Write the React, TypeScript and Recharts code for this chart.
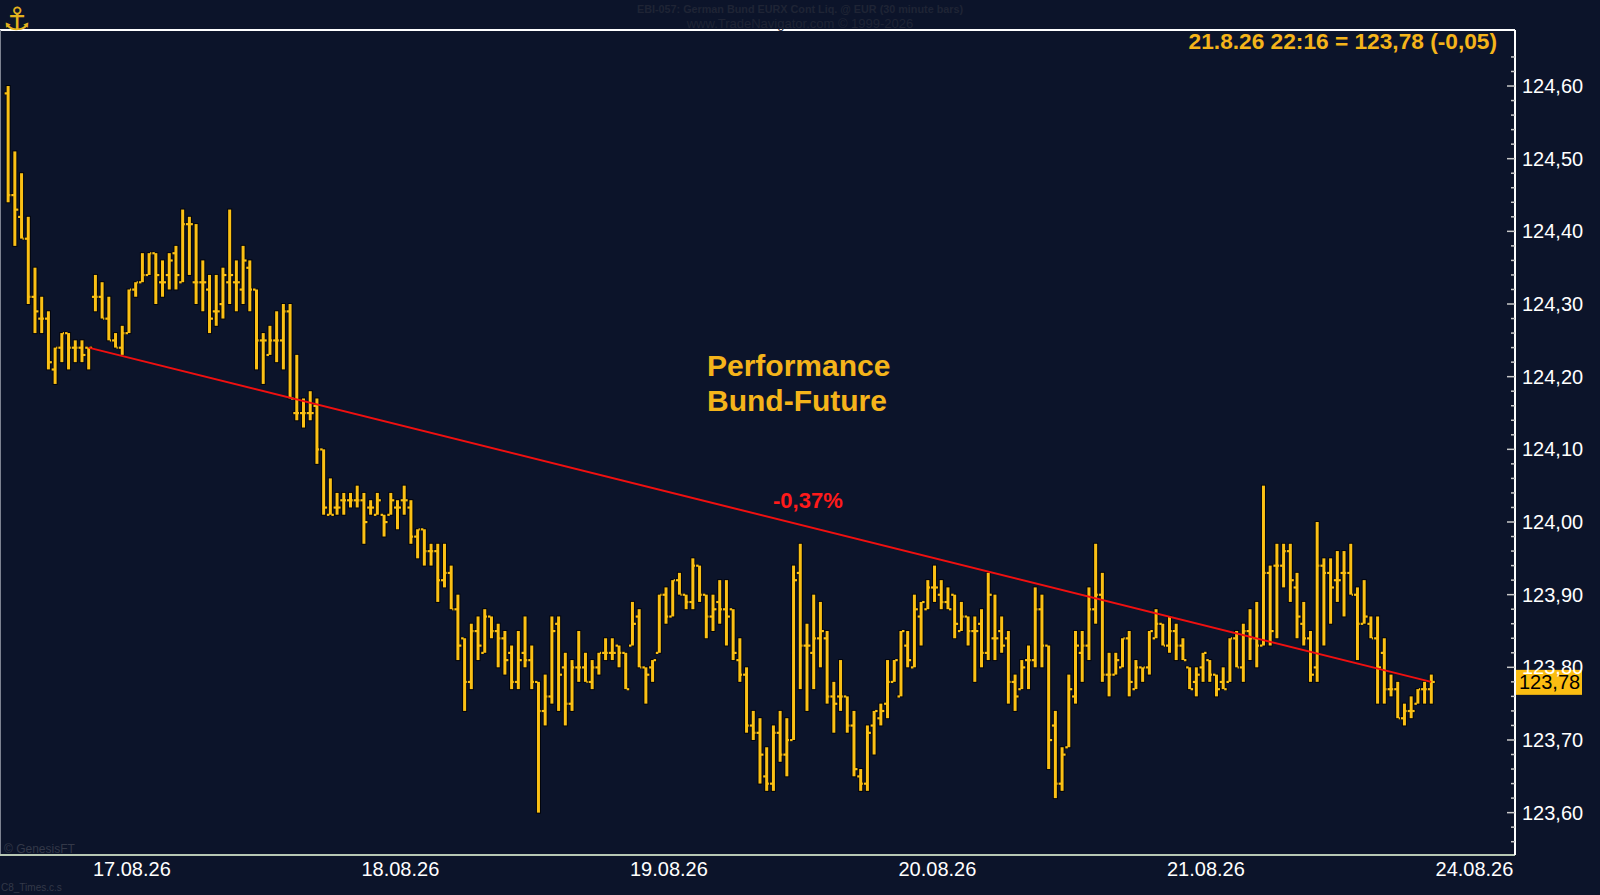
import React from "react";
import { ComposedChart, Bar, XAxis, YAxis, ReferenceLine } from "recharts";

// Bund-Future, 30 minute bars, 14.08. evening .. 21.08.26 22:16
const opens = [
  124.59, 124.45, 124.42, 124.39, 124.31, 124.28, 124.28, 124.21, 124.24, 124.26,
  124.24, 124.24, 124.24, 124.31, 124.31, 124.28, 124.25, 124.24, 124.26, 124.32,
  124.33, 124.34, 124.37, 124.33, 124.34, 124.37, 124.33, 124.41, 124.33, 124.33,
  124.32, 124.29, 124.30, 124.33, 124.33, 124.32, 124.35, 124.32, 124.25, 124.23,
  124.25, 124.25, 124.29, 124.15, 124.15, 124.15, 124.16, 124.10, 124.01, 124.02,
  124.03, 124.03, 124.03, 124.03, 124.02, 124.01, 124.01, 124.01, 124.02, 124.03,
  124.02, 123.98, 123.99, 123.96, 123.96, 123.92, 123.93, 123.88, 123.84, 123.78,
  123.85, 123.82, 123.87, 123.85, 123.84, 123.82, 123.78, 123.82, 123.81, 123.78,
  123.74, 123.76, 123.86, 123.80, 123.75, 123.80, 123.80, 123.78, 123.80, 123.82,
  123.82, 123.83, 123.82, 123.83, 123.87, 123.80, 123.80, 123.82, 123.90, 123.87,
  123.92, 123.90, 123.89, 123.94, 123.90, 123.87, 123.89, 123.88, 123.88, 123.81,
  123.79, 123.72, 123.71, 123.65, 123.64, 123.71, 123.68, 123.70, 123.93, 123.83,
  123.82, 123.84, 123.84, 123.76, 123.76, 123.76, 123.72, 123.65, 123.64, 123.72,
  123.73, 123.75, 123.78, 123.76, 123.83, 123.80, 123.87, 123.88, 123.91, 123.90,
  123.89, 123.90, 123.85, 123.87, 123.85, 123.86, 123.82, 123.84, 123.85, 123.84,
  123.78, 123.77, 123.81, 123.81, 123.88, 123.83, 123.72, 123.64, 123.69, 123.76,
  123.82, 123.83, 123.88, 123.90, 123.79, 123.79, 123.80, 123.84, 123.77, 123.80,
  123.80, 123.84, 123.86, 123.83, 123.85, 123.83, 123.80, 123.78, 123.80, 123.81,
  123.79, 123.78, 123.78, 123.84, 123.80, 123.85, 123.84, 123.83, 123.93, 123.94,
  123.94, 123.96, 123.91, 123.86, 123.84, 123.80, 123.94, 123.93, 123.92, 123.93,
  123.93, 123.90, 123.86, 123.86, 123.84, 123.82, 123.77, 123.77, 123.73, 123.74,
  123.75, 123.77, 123.77,
];

const highs = [
  124.60, 124.51, 124.48, 124.42, 124.35, 124.31, 124.29, 124.24, 124.26, 124.26,
  124.25, 124.25, 124.24, 124.34, 124.33, 124.31, 124.26, 124.27, 124.32, 124.33,
  124.37, 124.37, 124.37, 124.36, 124.37, 124.38, 124.43, 124.42, 124.41, 124.36,
  124.34, 124.34, 124.35, 124.43, 124.36, 124.38, 124.36, 124.32, 124.26, 124.27,
  124.29, 124.30, 124.30, 124.23, 124.17, 124.18, 124.17, 124.10, 124.06, 124.04,
  124.04, 124.04, 124.05, 124.04, 124.03, 124.04, 124.01, 124.04, 124.03, 124.05,
  124.03, 123.99, 123.99, 123.97, 123.97, 123.97, 123.94, 123.90, 123.84, 123.86,
  123.87, 123.88, 123.87, 123.86, 123.85, 123.83, 123.85, 123.87, 123.83, 123.78,
  123.79, 123.87, 123.87, 123.82, 123.81, 123.85, 123.82, 123.81, 123.82, 123.84,
  123.84, 123.83, 123.82, 123.89, 123.88, 123.80, 123.81, 123.90, 123.91, 123.92,
  123.93, 123.90, 123.95, 123.94, 123.90, 123.90, 123.92, 123.92, 123.88, 123.84,
  123.80, 123.74, 123.73, 123.69, 123.72, 123.74, 123.73, 123.94, 123.97, 123.86,
  123.90, 123.89, 123.85, 123.78, 123.81, 123.76, 123.74, 123.66, 123.72, 123.74,
  123.75, 123.81, 123.81, 123.85, 123.85, 123.90, 123.89, 123.92, 123.94, 123.92,
  123.91, 123.90, 123.89, 123.87, 123.87, 123.88, 123.93, 123.90, 123.87, 123.85,
  123.79, 123.81, 123.83, 123.91, 123.90, 123.83, 123.74, 123.69, 123.79, 123.85,
  123.85, 123.91, 123.97, 123.93, 123.82, 123.82, 123.84, 123.85, 123.81, 123.80,
  123.85, 123.88, 123.86, 123.87, 123.86, 123.84, 123.80, 123.80, 123.82, 123.81,
  123.79, 123.80, 123.84, 123.85, 123.86, 123.88, 123.89, 124.05, 123.94, 123.97,
  123.97, 123.97, 123.93, 123.89, 123.85, 124.00, 123.95, 123.95, 123.96, 123.96,
  123.97, 123.91, 123.92, 123.87, 123.87, 123.84, 123.79, 123.78, 123.75, 123.76,
  123.77, 123.78, 123.79,
];

const lows = [
  124.44, 124.38, 124.39, 124.30, 124.26, 124.26, 124.21, 124.19, 124.22, 124.21,
  124.22, 124.22, 124.21, 124.29, 124.28, 124.25, 124.24, 124.23, 124.26, 124.31,
  124.33, 124.34, 124.30, 124.31, 124.32, 124.32, 124.33, 124.34, 124.30, 124.29,
  124.26, 124.27, 124.28, 124.30, 124.29, 124.30, 124.29, 124.21, 124.19, 124.23,
  124.22, 124.21, 124.17, 124.14, 124.13, 124.14, 124.08, 124.01, 124.01, 124.01,
  124.01, 124.02, 124.02, 123.97, 124.01, 124.01, 123.98, 124.01, 123.99, 124.01,
  123.97, 123.95, 123.94, 123.94, 123.89, 123.91, 123.88, 123.81, 123.74, 123.77,
  123.81, 123.82, 123.84, 123.80, 123.79, 123.77, 123.77, 123.80, 123.77, 123.60,
  123.72, 123.75, 123.74, 123.72, 123.74, 123.78, 123.78, 123.77, 123.79, 123.81,
  123.81, 123.80, 123.77, 123.83, 123.80, 123.75, 123.78, 123.82, 123.86, 123.87,
  123.90, 123.88, 123.88, 123.89, 123.84, 123.85, 123.86, 123.83, 123.81, 123.78,
  123.71, 123.70, 123.64, 123.63, 123.63, 123.67, 123.65, 123.70, 123.77, 123.74,
  123.77, 123.80, 123.75, 123.71, 123.74, 123.71, 123.65, 123.63, 123.63, 123.68,
  123.72, 123.73, 123.78, 123.76, 123.80, 123.80, 123.83, 123.88, 123.89, 123.88,
  123.88, 123.84, 123.85, 123.83, 123.78, 123.80, 123.81, 123.81, 123.82, 123.75,
  123.74, 123.77, 123.77, 123.80, 123.80, 123.66, 123.62, 123.63, 123.69, 123.75,
  123.78, 123.81, 123.86, 123.78, 123.76, 123.79, 123.80, 123.76, 123.77, 123.78,
  123.79, 123.84, 123.83, 123.82, 123.81, 123.81, 123.77, 123.76, 123.78, 123.78,
  123.76, 123.77, 123.78, 123.80, 123.78, 123.81, 123.80, 123.83, 123.83, 123.84,
  123.91, 123.89, 123.84, 123.83, 123.78, 123.78, 123.83, 123.86, 123.89, 123.87,
  123.90, 123.81, 123.86, 123.84, 123.75, 123.75, 123.76, 123.73, 123.72, 123.73,
  123.75, 123.75, 123.75,
];

const closes = [
  124.45, 124.43, 124.39, 124.31, 124.29, 124.28, 124.22, 124.24, 124.26, 124.24,
  124.24, 124.23, 124.24, 124.31, 124.28, 124.25, 124.24, 124.26, 124.32, 124.33,
  124.34, 124.37, 124.34, 124.33, 124.36, 124.34, 124.41, 124.41, 124.33, 124.33,
  124.28, 124.29, 124.34, 124.34, 124.33, 124.36, 124.32, 124.25, 124.25, 124.25,
  124.25, 124.29, 124.17, 124.15, 124.15, 124.15, 124.10, 124.02, 124.01, 124.02,
  124.03, 124.03, 124.03, 124.00, 124.02, 124.03, 124.00, 124.03, 124.02, 124.03,
  123.98, 123.99, 123.96, 123.96, 123.92, 123.93, 123.88, 123.83, 123.78, 123.85,
  123.83, 123.87, 123.85, 123.84, 123.81, 123.78, 123.81, 123.81, 123.78, 123.74,
  123.76, 123.85, 123.79, 123.75, 123.80, 123.80, 123.78, 123.80, 123.82, 123.82,
  123.82, 123.82, 123.77, 123.86, 123.80, 123.79, 123.81, 123.90, 123.87, 123.92,
  123.90, 123.89, 123.94, 123.90, 123.87, 123.88, 123.88, 123.87, 123.82, 123.79,
  123.72, 123.71, 123.68, 123.64, 123.71, 123.68, 123.70, 123.92, 123.83, 123.83,
  123.84, 123.85, 123.76, 123.75, 123.76, 123.72, 123.66, 123.64, 123.71, 123.74,
  123.74, 123.78, 123.81, 123.85, 123.81, 123.88, 123.89, 123.91, 123.91, 123.89,
  123.88, 123.86, 123.87, 123.85, 123.85, 123.82, 123.90, 123.84, 123.83, 123.78,
  123.76, 123.80, 123.81, 123.88, 123.83, 123.70, 123.64, 123.68, 123.77, 123.83,
  123.83, 123.88, 123.90, 123.79, 123.79, 123.81, 123.84, 123.78, 123.80, 123.80,
  123.85, 123.86, 123.83, 123.85, 123.83, 123.81, 123.77, 123.79, 123.82, 123.79,
  123.77, 123.77, 123.84, 123.80, 123.85, 123.84, 123.83, 123.93, 123.85, 123.94,
  123.96, 123.92, 123.87, 123.84, 123.79, 123.94, 123.93, 123.91, 123.92, 123.93,
  123.90, 123.86, 123.87, 123.84, 123.80, 123.77, 123.77, 123.73, 123.74, 123.74,
  123.77, 123.77, 123.78,
];

// x axis: bar index of each day label
const dayTicks = [18.45, 58.45, 98.45, 138.45, 178.45, 218.45];
const dayLabels = ["17.08.26", "18.08.26", "19.08.26", "20.08.26", "21.08.26", "24.08.26"];

const priceTicks = [123.6, 123.7, 123.8, 123.9, 124.0, 124.1, 124.2, 124.3, 124.4, 124.5, 124.6];
const minorSteps = [-0.04, -0.02, 0.02, 0.04];

// performance line: close of bar 12 to the last close
const trendFrom = { bar: 12, price: 124.24 };
const trendTo = { bar: 212, price: 123.78 };
const lastPrice = 123.78;

const X_DOMAIN: [number, number] = [-1.19, 224.49];
const Y_DOMAIN: [number, number] = [123.5417, 124.6771];

const BG = "#0c142a";
const BAR_GOLD = "#fbc015";
const TEXT_GOLD = "#f5b41a";
const FONT = "'Liberation Sans', Arial, sans-serif";

const rows = closes.map((c, i) => ({
  i,
  o: opens[i],
  h: highs[i],
  l: lows[i],
  c,
  range: [lows[i], highs[i]],
}));

const allTicks = [
  ...priceTicks,
  ...priceTicks.flatMap((t) => minorSteps.map((s) => Math.round((t + s) * 100) / 100)),
]
  .filter((v, idx, arr) => arr.indexOf(v) === idx && v > Y_DOMAIN[0] && v < Y_DOMAIN[1])
  .sort((a, b) => a - b);

const fmt = (v: number) => v.toFixed(2).replace(".", ",");

function OhlcShape(props: any) {
  const { x, y, width, height, payload } = props;
  if (!payload || x == null || y == null) return null;
  const cx = x + width / 2;
  const top = Math.min(y, y + height);
  const h = Math.abs(height);
  const span = payload.h - payload.l;
  const toY = (v: number) => (span > 0 ? top + ((payload.h - v) / span) * h : top);
  const yo = toY(payload.o);
  const yc = toY(payload.c);
  return (
    <g>
      <rect x={cx - 2.5} y={top - 1} width={5} height={h + 2} fill="#03050b" />
      <rect x={cx - 4.5} y={yo - 1.5} width={3} height={3} fill="#03050b" />
      <rect x={cx + 1.5} y={yc - 1.5} width={3} height={3} fill="#03050b" />
      <rect x={cx - 1.5} y={top} width={3} height={Math.max(h, 1)} fill={BAR_GOLD} />
      <rect x={cx - 3.5} y={yo - 1} width={2.5} height={2.2} fill={BAR_GOLD} />
      <rect x={cx + 1} y={yc - 1} width={2.5} height={2.2} fill={BAR_GOLD} />
    </g>
  );
}

function PriceTick(props: any) {
  const { x, y, payload } = props;
  const v = payload.value as number;
  const major = priceTicks.some((t) => Math.abs(t - v) < 1e-6);
  return (
    <g>
      <line x1={x - (major ? 8 : 4)} x2={x} y1={y} y2={y} stroke="#c9c9c9" strokeWidth={1.5} />
      {major && (
        <text x={x + 7} y={y + 7} fill="#ffffff" fontSize={20} fontFamily={FONT}>
          {fmt(v)}
        </text>
      )}
    </g>
  );
}

function PriceBox(props: any) {
  const vb = props.viewBox || {};
  const left = (vb.x ?? 0) + (vb.width ?? 0) + 1;
  const y = vb.y ?? 0;
  return (
    <g>
      <rect x={left} y={y - 12} width={66} height={25} fill="#fbbd12" />
      <text x={left + 3} y={y + 7.5} fill="#000000" fontSize={20} fontFamily={FONT}>
        {fmt(lastPrice)}
      </text>
    </g>
  );
}

export default function App() {
  return (
    <div style={{ position: "fixed", left: 0, top: 0, width: 1600, height: 895, background: BG }}>
      <ComposedChart
        width={1600}
        height={895}
        data={rows}
        margin={{ top: 30, right: 0, bottom: 0, left: 0 }}
      >
        <XAxis
          dataKey="i"
          type="number"
          domain={X_DOMAIN}
          allowDataOverflow
          ticks={dayTicks}
          interval={0}
          height={40}
          tickSize={5}
          tickLine={false}
          axisLine={{ stroke: "#b8c8b4", strokeWidth: 2 }}
          tickFormatter={(v: number) => dayLabels[dayTicks.indexOf(v)] ?? ""}
          tick={{ fill: "#ffffff", fontSize: 20, fontFamily: FONT }}
        />
        <YAxis
          orientation="right"
          type="number"
          domain={Y_DOMAIN}
          allowDataOverflow
          ticks={allTicks}
          interval={0}
          width={85}
          tickSize={0}
          tickMargin={0}
          tickLine={false}
          axisLine={{ stroke: "#ffffff", strokeWidth: 2 }}
          tick={<PriceTick />}
        />
        <ReferenceLine y={Y_DOMAIN[1]} stroke="#ffffff" strokeWidth={2} ifOverflow="visible" />
        <ReferenceLine x={X_DOMAIN[0]} stroke="#7d8290" strokeWidth={2} ifOverflow="visible" />
        <Bar
          dataKey="range"
          barSize={3}
          shape={<OhlcShape />}
          isAnimationActive={false}
        />
        <ReferenceLine
          segment={[
            { x: trendFrom.bar, y: trendFrom.price },
            { x: trendTo.bar, y: trendTo.price },
          ]}
          stroke="#f01010"
          strokeWidth={2}
        />
        <ReferenceLine y={lastPrice} stroke="none" label={<PriceBox />} />
      </ComposedChart>

      <svg
        width={1600}
        height={895}
        style={{ position: "absolute", left: 0, top: 0, pointerEvents: "none" }}
      >
        <text x={17} y={30} textAnchor="middle" fontSize={32} fill="#e3b21e" fontFamily="DejaVu Sans">
          ⚓
        </text>
        <text x={800} y={13} textAnchor="middle" fontSize={10.8} fontWeight="bold" fill="#1f2435" fontFamily={FONT}>
          EBI-057:  German Bund EURX Cont Liq. @ EUR  (30 minute bars)
        </text>
        <text x={800} y={27.5} textAnchor="middle" fontSize={13} fill="#1f2435" fontFamily={FONT}>
          www.TradeNavigator.com © 1999-2026
        </text>
        <text x={1497} y={48.5} textAnchor="end" fontSize={22.7} fontWeight="bold" fill={TEXT_GOLD} fontFamily={FONT}>
          21.8.26 22:16 = 123,78 (-0,05)
        </text>
        <text x={707} y={376} fontSize={30} fontWeight="bold" fill={TEXT_GOLD} fontFamily={FONT}>
          Performance
        </text>
        <text x={707} y={411} fontSize={30} fontWeight="bold" fill={TEXT_GOLD} fontFamily={FONT}>
          Bund-Future
        </text>
        <text x={773} y={508} fontSize={22} fontWeight="bold" fill="#ff1a1a" fontFamily={FONT}>
          -0,37%
        </text>
        <text x={4} y={853} fontSize={12} fill="#333848" fontFamily={FONT}>
          © GenesisFT
        </text>
        <text x={1} y={891} fontSize={10} fill="#333848" fontFamily={FONT}>
          C8_Times.c.s
        </text>
      </svg>
    </div>
  );
}
